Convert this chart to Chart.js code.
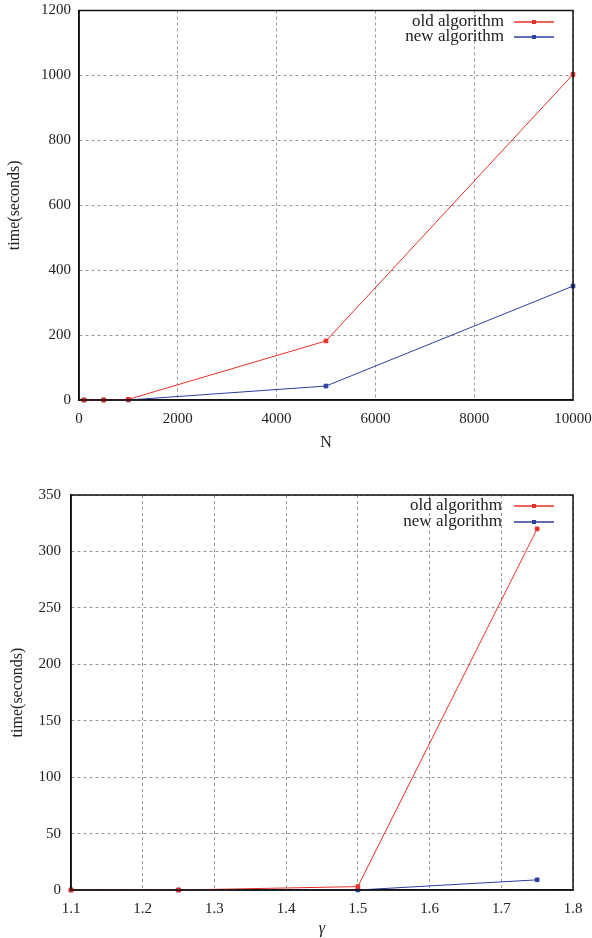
<!DOCTYPE html>
<html>
<head>
<meta charset="utf-8">
<script src="https://cdn.jsdelivr.net/npm/chart.js@4/dist/chart.umd.min.js"></script>
<style>
  body { margin: 0; background: #fff; }
  canvas { display: block; }
</style>
</head>
<body>
<canvas id="sizeChart" width="592" height="465"></canvas>
<canvas id="gammaChart" width="592" height="473"></canvas>
<script>
// top chart: time vs N
const sizeN = [100, 500, 1000, 5000, 10000];
const sizeOld = [0, 0, 2, 182, 1003];
const sizeNew = [0, 0, 0, 43, 351];

// bottom chart: time vs gamma
const gammaVals = [1.1, 1.25, 1.5, 1.75];
const gammaOld = [0, 0, 3, 320];
const gammaNew = [0, 0, 0, 9];

const seriesNames = ['old algorithm', 'new algorithm'];
const RED = '#e8302a';
const BLUE = '#2b3f9e';
const FONT = "'Liberation Serif', serif";

function toPoints(xs, ys) {
    return xs.map((x, i) => ({ x: x, y: ys[i] }));
}

function dataset(label, color, pts) {
    return {
        label: label,
        data: pts,
        borderColor: color,
        backgroundColor: color,
        borderWidth: 1,
        pointStyle: 'rect',
        pointRadius: 2.6,
        pointBorderWidth: 1,
        tension: 0,
        clip: false
    };
}

// box around the plot + legend in the upper right corner (gnuplot style)
const framePlugin = {
    id: 'frame',
    afterDraw(chart, args, opts) {
        const ctx = chart.ctx;
        const a = chart.chartArea;
        ctx.save();
        ctx.strokeStyle = '#111';
        ctx.lineWidth = 1.5;
        ctx.strokeRect(a.left, a.top, a.right - a.left, a.bottom - a.top);

        ctx.font = '17px ' + FONT;
        ctx.textAlign = 'right';
        ctx.textBaseline = 'middle';
        chart.data.datasets.forEach((ds, i) => {
            const y = a.top + opts.firstRow + i * opts.rowGap;
            ctx.fillStyle = '#222';
            ctx.fillText(ds.label, a.right - opts.textGap, y);
            ctx.strokeStyle = ds.borderColor;
            ctx.lineWidth = 1.5;
            ctx.beginPath();
            ctx.moveTo(a.right - 59, y);
            ctx.lineTo(a.right - 19, y);
            ctx.stroke();
            ctx.fillStyle = ds.borderColor;
            ctx.fillRect(a.right - 41, y - 2, 4, 4);
        });
        ctx.restore();
    }
};

function makeChart(id, cfg) {
    return new Chart(document.getElementById(id).getContext('2d'), {
        type: 'line',
        data: {
            datasets: [
                dataset(seriesNames[0], RED, toPoints(cfg.xs, cfg.old)),
                dataset(seriesNames[1], BLUE, toPoints(cfg.xs, cfg.neu))
            ]
        },
        options: {
            responsive: false,
            animation: false,
            layout: { padding: { top: cfg.padTop, right: 19, left: 0, bottom: 0 } },
            plugins: {
                legend: { display: false },
                tooltip: { enabled: false },
                frame: cfg.legend
            },
            scales: {
                x: {
                    type: 'linear',
                    min: cfg.xMin, max: cfg.xMax,
                    afterFit: s => {
                        s.height = cfg.xHeight;
                        s.paddingLeft = 0;
                        s.paddingRight = 0;
                    },
                    ticks: {
                        stepSize: cfg.xStep,
                        padding: 10,
                        color: '#222',
                        font: { family: FONT, size: 15 },
                        callback: cfg.xFmt
                    },
                    grid: { color: '#999', drawTicks: false },
                    border: { color: '#111', width: 1.5, dash: [3, 3] },
                    title: {
                        display: true,
                        text: cfg.xTitle,
                        color: '#222',
                        font: { family: FONT, size: 16, style: cfg.xTitleStyle },
                        padding: { top: 0, bottom: cfg.xTitlePad }
                    }
                },
                y: {
                    min: 0, max: cfg.yMax,
                    afterFit: s => {
                        s.width = cfg.yWidth;
                        s.paddingTop = 0;
                        s.paddingBottom = 0;
                    },
                    ticks: {
                        stepSize: cfg.yStep,
                        padding: cfg.yTickPad,
                        color: '#222',
                        font: { family: FONT, size: 15 },
                        callback: v => String(v)
                    },
                    grid: { color: '#999', drawTicks: false },
                    border: { color: '#111', width: 1.5, dash: [3, 3] },
                    title: {
                        display: true,
                        text: 'time(seconds)',
                        color: '#222',
                        font: { family: FONT, size: 16 },
                        padding: { top: cfg.yTitlePad, bottom: 0 }
                    }
                }
            }
        },
        plugins: [framePlugin]
    });
}

makeChart('sizeChart', {
    xs: sizeN, old: sizeOld, neu: sizeNew,
    xMin: 0, xMax: 10000, xStep: 2000, xFmt: v => String(v),
    yMax: 1200, yStep: 200,
    xTitle: 'N', xTitleStyle: 'normal',
    padTop: 10.5, xHeight: 65, yWidth: 79, yTickPad: 8,
    xTitlePad: 13, yTitlePad: 5,
    legend: { firstRow: 11.5, rowGap: 15, textGap: 69 }
});

makeChart('gammaChart', {
    xs: gammaVals, old: gammaOld, neu: gammaNew,
    xMin: 1.1, xMax: 1.8, xStep: 0.1, xFmt: v => v.toFixed(1),
    yMax: 350, yStep: 50,
    xTitle: 'γ', xTitleStyle: 'italic',
    padTop: 30, xHeight: 48, yWidth: 71, yTickPad: 10,
    xTitlePad: 0, yTitlePad: 8,
    legend: { firstRow: 11, rowGap: 16, textGap: 71 }
});
</script>
</body>
</html>
